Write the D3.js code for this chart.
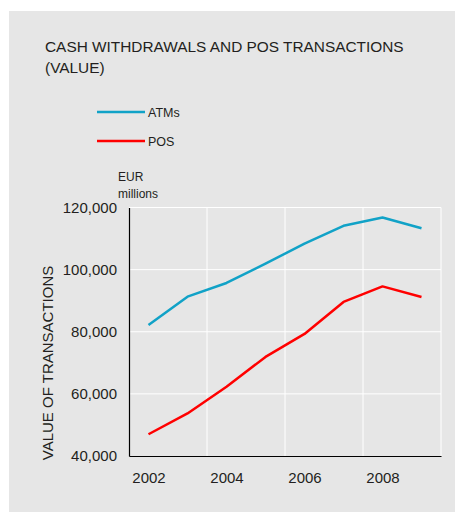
<!DOCTYPE html>
<html>
<head>
<meta charset="utf-8">
<script src="https://cdn.jsdelivr.net/npm/d3@7"></script>
<style>
  html, body { margin: 0; padding: 0; background: #ffffff; }
  svg text { font-family: "Liberation Sans", Arial, sans-serif; fill: #231f20; }
</style>
</head>
<body>
<svg id="chart" width="455" height="512"></svg>
<script>
// Annual values, EUR millions
const years = [2002, 2003, 2004, 2005, 2006, 2007, 2008, 2009];
const atmValues = [82200, 91300, 95700, 101900, 108400, 114100, 116800, 113300];
const posValues = [47000, 53700, 62300, 71900, 79300, 89600, 94600, 91200];
const yTicks = [40000, 60000, 80000, 100000, 120000];
const xTickYears = [2002, 2004, 2006, 2008];
const seriesNames = ["ATMs", "POS"];
const seriesColors = ["#11a2c7", "#ff0000"];

const svg = d3.select("#chart");

// Panel background
svg.append("rect")
  .attr("x", 9).attr("y", 11)
  .attr("width", 446).attr("height", 501)
  .attr("fill", "#e6e6e6");

// Title
const title = svg.append("text")
  .attr("x", 45).attr("font-size", 15.4);
title.append("tspan").attr("x", 45).attr("y", 51.5).text("CASH WITHDRAWALS AND POS TRANSACTIONS");
title.append("tspan").attr("x", 45).attr("y", 72.5).text("(VALUE)");

// Legend
const legend = svg.append("g");
seriesNames.forEach((name, i) => {
  const ly = 112 + i * 29;
  legend.append("line")
    .attr("x1", 97).attr("x2", 145)
    .attr("y1", ly).attr("y2", ly)
    .attr("stroke", seriesColors[i]).attr("stroke-width", 2.5);
  legend.append("text")
    .attr("x", 148).attr("y", ly + 4.5)
    .attr("font-size", 12.5)
    .text(name);
});

// Unit label
svg.append("text").attr("x", 118).attr("y", 181).attr("font-size", 12).text("EUR");
svg.append("text").attr("x", 118).attr("y", 197.5).attr("font-size", 12).text("millions");

// Scales
const x = d3.scaleLinear().domain([2001.5, 2009.5]).range([129, 441]);
const y = d3.scaleLinear().domain([40000, 120000]).range([456, 207.5]);

// Grid
const grid = svg.append("g");
grid.selectAll("line.h")
  .data(yTicks.slice(1))
  .join("line")
  .attr("x1", x(2001.5)).attr("x2", x(2009.5))
  .attr("y1", d => y(d)).attr("y2", d => y(d))
  .attr("stroke", "#ffffff").attr("stroke-width", 1);
grid.selectAll("line.v")
  .data([2003.5, 2005.5, 2007.5, 2009.5])
  .join("line")
  .attr("x1", d => x(d)).attr("x2", d => x(d))
  .attr("y1", y(120000)).attr("y2", y(40000))
  .attr("stroke", "#ffffff").attr("stroke-width", 1);

// Axes
const yAxis = svg.append("g")
  .attr("transform", `translate(${x(2001.5)},0)`)
  .call(d3.axisLeft(y).tickValues(yTicks).tickFormat(d3.format(",")).tickSize(0).tickPadding(12));
const xAxis = svg.append("g")
  .attr("transform", `translate(0,${y(40000)})`)
  .call(d3.axisBottom(x).tickValues(xTickYears).tickFormat(d3.format("d")).tickSize(0).tickPadding(16));
[yAxis, xAxis].forEach(a => {
  a.select(".domain").attr("stroke", "#000000").attr("stroke-width", 1.2);
  a.selectAll("text").attr("font-size", 15).attr("fill", "#231f20")
    .style("font-family", '"Liberation Sans", Arial, sans-serif');
});

// Axis title
svg.append("text")
  .attr("transform", "translate(53,363) rotate(-90)")
  .attr("text-anchor", "middle")
  .attr("font-size", 15)
  .text("VALUE OF TRANSACTIONS");

// Series lines
const line = d3.line().x((d, i) => x(years[i])).y(d => y(d));
[atmValues, posValues].forEach((vals, i) => {
  svg.append("path")
    .datum(vals)
    .attr("d", line)
    .attr("fill", "none")
    .attr("stroke", seriesColors[i])
    .attr("stroke-width", 2.5)
    .attr("stroke-linejoin", "round");
});
</script>
</body>
</html>
